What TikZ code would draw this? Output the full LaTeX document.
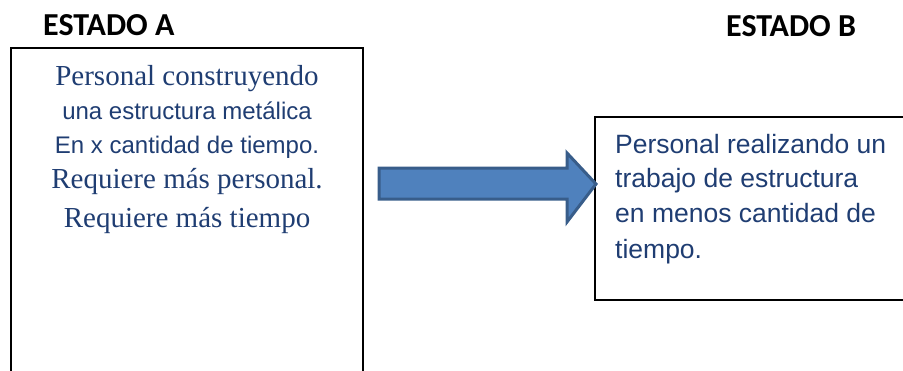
\documentclass[tikz,border=0pt]{standalone}
\usepackage{fontspec}
\setmainfont{Liberation Serif}
\newfontfamily\arialf{Liberation Sans}
\newfontfamily\calibrif{Carlito}
\definecolor{txtblue}{HTML}{1F3D72}
\definecolor{arrfill}{HTML}{4F81BD}
\definecolor{arrdraw}{HTML}{385D8A}
\begin{document}
\begin{tikzpicture}[x=1pt,y=-1pt,
  title/.style={anchor=base west,inner sep=0pt,font=\calibrif\bfseries\fontsize{32}{38}\selectfont},
  serifline/.style={anchor=base,inner sep=0pt,text=txtblue,font=\fontsize{29}{34}\selectfont},
  sansline/.style={anchor=base,inner sep=0pt,text=txtblue,font=\arialf\fontsize{24}{28}\selectfont},
  bline/.style={anchor=base west,inner sep=0pt,text=txtblue,font=\arialf\fontsize{26.5}{30}\selectfont},
  boxframe/.style={draw=black,line width=1.3pt}]
\useasboundingbox (0,0) rectangle (903,370);
\clip (0,0) rectangle (903,370);
% titles
\node[title] (ta) at (43,35) {ESTADO A};
\node[title] (tb) at (726,36) {ESTADO B};
% boxes
\draw[boxframe] (11,48) coordinate (a1) rectangle (363,390) coordinate (a2);
\draw[boxframe] (595,117) coordinate (b1) rectangle (915,300) coordinate (b2);
% left text
\node[serifline] (l1) at (187,85) {Personal construyendo};
\node[sansline] (l2) at (187,119) {una estructura metálica};
\node[sansline] (l3) at (187,153) {En x cantidad de tiempo.};
\node[serifline] (l4) at (187,188) {Requiere más personal.};
\node[serifline] (l5) at (187,227) {Requiere más tiempo};
% right text
\node[bline] (r1) at (615,153) {Personal realizando un};
\node[bline] (r2) at (615,187) {trabajo de estructura};
\node[bline] (r3) at (615,222) {en menos cantidad de};
\node[bline] (r4) at (615,258) {tiempo.};
% block arrow
\coordinate (as) at (379,184);
\coordinate (at) at (596,184);
\draw[fill=arrfill,draw=arrdraw,line width=3pt,line join=miter]
  (379,168) -- (567,168) -- (567,153) -- (at) -- (567,222) -- (567,199) -- (379,199) -- cycle;
\end{tikzpicture}
\end{document}
